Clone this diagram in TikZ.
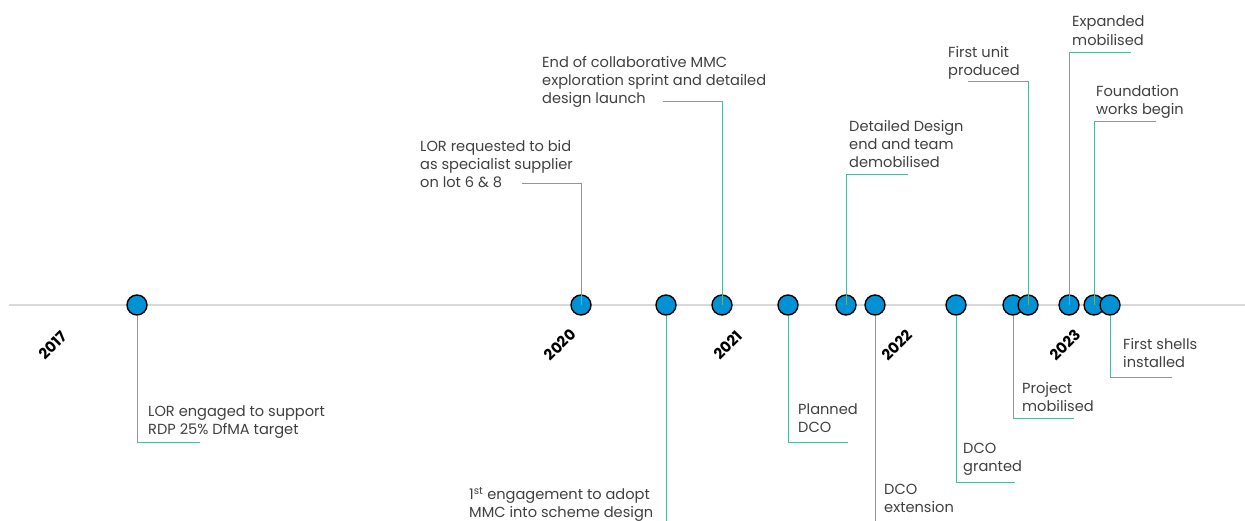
\documentclass[tikz,border=0pt]{standalone}
\usepackage{fontspec}
\setmainfont{Poppins}
\usetikzlibrary{backgrounds}

\definecolor{evblue}{RGB}{0,146,212}
\definecolor{linkgreen}{RGB}{92,180,152}
\definecolor{axisgrey}{RGB}{217,217,217}
\definecolor{txtgrey}{RGB}{64,64,64}

\begin{document}
\begin{tikzpicture}[
    x=1pt, y=-1pt,
    event/.style={circle, draw=black, line width=1.4pt, fill=evblue,
                  minimum size=20pt, inner sep=0pt},
    note/.style={anchor=north west, align=left, inner sep=0pt,
                 font=\fontsize{14.6}{18}\selectfont, text=txtgrey},
    year/.style={rotate=45, font=\bfseries\fontsize{15}{16}\selectfont},
    link/.style={draw=linkgreen, line width=1pt},
    timeline/.style={draw=axisgrey, line width=1.5pt}
]
  \useasboundingbox (0,0) rectangle (1245,521);

  % Axis
  \coordinate (tlstart) at (9,305);
  \coordinate (tlend) at (1245,305);

  % Years
  \node[year] (y17) at (53,345) {2017};
  \node[year] (y20) at (560,345) {2020};
  \node[year] (y21) at (728,345) {2021};
  \node[year] (y22) at (897,345) {2022};
  \node[year] (y23) at (1065,345) {2023};

  % Events
  \node[event] (engage) at (137,305) {};
  \node[event] (bid) at (581,305) {};
  \node[event] (adopt) at (666,305) {};
  \node[event] (sprint) at (722,305) {};
  \node[event] (plandco) at (788,305) {};
  \node[event] (design) at (846,305) {};
  \node[event] (dcoext) at (875,305) {};
  \node[event] (dcogrant) at (956,305) {};
  \node[event] (projmob) at (1013,305) {};
  \node[event] (firstunit) at (1028,305) {};
  \node[event] (expmob) at (1069,305) {};
  \node[event] (found) at (1094,305) {};
  \node[event] (shells) at (1110,305) {};

  % Texts above the axis
  \node[note] (bidtxt) at (420,140) {LOR requested to bid\\as specialist supplier\\on lot 6 \& 8};
  \node[note] (sprinttxt) at (542,56) {End of collaborative MMC\\exploration sprint and detailed\\design launch};
  \node[note] (designtxt) at (849,120) {Detailed Design\\end and team\\demobilised};
  \node[note] (firstunittxt) at (948,46) {First unit\\produced};
  \node[note] (expmobtxt) at (1072,16) {Expanded\\mobilised};
  \node[note] (foundtxt) at (1096,85) {Foundation\\works begin};

  % Texts below the axis
  \node[note] (engagetxt) at (148,405) {LOR engaged to support\\RDP 25\% DfMA target};
  \node[note] (adopttxt) at (469,487) {1\textsuperscript{st} engagement to adopt\\MMC into scheme design};
  \node[note] (plandcotxt) at (798,403) {Planned\\DCO};
  \node[note] (dcoexttxt) at (884,484) {DCO\\extension};
  \node[note] (dcogranttxt) at (963,443) {DCO\\granted};
  \node[note] (projmobtxt) at (1022,382) {Project\\mobilised};
  \node[note] (shellstxt) at (1123,338) {First shells\\installed};

  % Leader ends
  \coordinate (bidend) at (522,184);
  \coordinate (sprintend) at (663,102);
  \coordinate (designend) at (908,175);
  \coordinate (firstunitend) at (968,82);
  \coordinate (expmobend) at (1131,53);
  \coordinate (foundend) at (1156,122);
  \coordinate (engageend) at (200,442);
  \coordinate (adoptend) at (666,521);
  \coordinate (plandcoend) at (848,442);
  \coordinate (dcoextend) at (875,521);
  \coordinate (dcograntend) at (1015,482);
  \coordinate (projmobend) at (1074,418);
  \coordinate (shellsend) at (1172,377);

  % Axis and downward leaders sit behind the circles
  \begin{scope}[on background layer]
    \draw[timeline] (tlstart) -- (tlend);
    \draw[link] (engage) |- (engageend);
    \draw[link] (adopt) -- (adoptend);
    \draw[link] (plandco) |- (plandcoend);
    \draw[link] (dcoext) -- (dcoextend);
    \draw[link] (dcogrant) |- (dcograntend);
    \draw[link] (projmob) |- (projmobend);
    \draw[link] (shells) |- (shellsend);
  \end{scope}

  % Upward leaders start at the circle centres
  \draw[link] (bid.center) |- (bidend);
  \draw[link] (sprint.center) |- (sprintend);
  \draw[link] (design.center) |- (designend);
  \draw[link] (firstunit.center) |- (firstunitend);
  \draw[link] (expmob.center) |- (expmobend);
  \draw[link] (found.center) |- (foundend);
\end{tikzpicture}
\end{document}
